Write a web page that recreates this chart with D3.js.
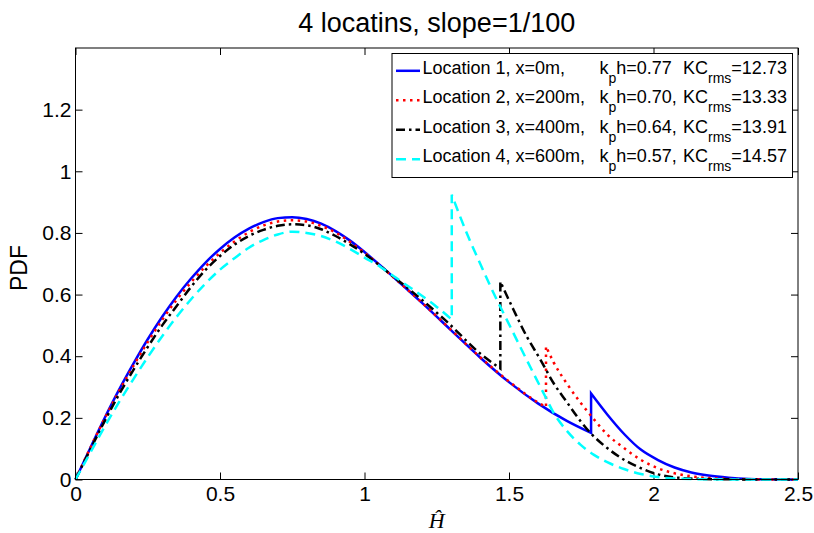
<!DOCTYPE html>
<html>
<head>
<meta charset="utf-8">
<script src="https://cdn.jsdelivr.net/npm/d3@7"></script>
<style>
  html, body { margin: 0; padding: 0; background: #fff; }
  svg { display: block; }
  text { font-family: "Liberation Sans", Arial, Helvetica, sans-serif; }
</style>
</head>
<body>
<svg id="chart" width="814" height="533"></svg>
<script>
// ---------- data ----------
const title = "4 locatins, slope=1/100";
const xTicks = [0, 0.5, 1, 1.5, 2, 2.5];
const xTickLabels = ["0", "0.5", "1", "1.5", "2", "2.5"];
const yTicks = [0, 0.2, 0.4, 0.6, 0.8, 1, 1.2];
const yTickLabels = ["0", "0.2", "0.4", "0.6", "0.8", "1", "1.2"];

// Location 1 (blue, solid)
const h1 = [0,0.05,0.1,0.15,0.2,0.25,0.3,0.35,0.4,0.45,0.5,0.55,0.6,0.65,0.7,0.75,0.8,0.85,0.9,0.95,1.0,1.1,1.2,1.3,1.4,1.5,1.6,1.7,1.784,
            1.784,1.84,1.9,1.956,2.014,2.073,2.131,2.19,2.26,2.33,2.4,2.5];
const p1 = [0,0.10,0.198,0.29,0.375,0.455,0.528,0.594,0.652,0.704,0.748,0.785,0.814,0.835,0.848,0.851,0.845,0.83,0.806,0.775,0.738,0.657,0.572,0.484,0.396,0.316,0.247,0.19,0.151,
            0.279,0.211,0.146,0.097,0.064,0.039,0.023,0.013,0.006,0.002,0.0005,0];
// Location 2 (red, dotted)
const h2 = [0,0.05,0.1,0.15,0.2,0.25,0.3,0.35,0.4,0.45,0.5,0.55,0.6,0.65,0.7,0.75,0.8,0.85,0.9,0.95,1.0,1.1,1.2,1.3,1.4,1.5,1.6,1.628,
            1.628,1.654,1.701,1.747,1.794,1.84,1.898,1.956,2.014,2.073,2.142,2.235,2.35,2.5];
const p2 = [0,0.10,0.196,0.285,0.368,0.446,0.518,0.583,0.64,0.691,0.735,0.772,0.802,0.824,0.837,0.841,0.837,0.823,0.801,0.771,0.736,0.656,0.573,0.485,0.397,0.318,0.25,0.235,
            0.432,0.381,0.31,0.25,0.195,0.146,0.102,0.064,0.037,0.02,0.009,0.003,0.0005,0];
// Location 3 (black, dash-dot)
const h3 = [0,0.05,0.1,0.15,0.2,0.25,0.3,0.35,0.4,0.45,0.5,0.55,0.6,0.65,0.7,0.75,0.8,0.85,0.9,0.95,1.0,1.1,1.2,1.285,1.4,1.47,
            1.47,1.516,1.562,1.608,1.654,1.701,1.747,1.782,1.84,1.898,1.956,2.014,2.073,2.131,2.25,2.5];
const p3 = [0,0.095,0.188,0.275,0.355,0.43,0.50,0.563,0.625,0.68,0.725,0.762,0.79,0.81,0.823,0.828,0.825,0.812,0.79,0.763,0.732,0.658,0.582,0.512,0.409,0.36,
            0.642,0.55,0.463,0.39,0.313,0.25,0.19,0.151,0.102,0.064,0.037,0.017,0.007,0.003,0.0005,0];
// Location 4 (cyan, dashed)
const h4 = [0,0.05,0.1,0.15,0.2,0.25,0.3,0.35,0.4,0.45,0.5,0.55,0.6,0.65,0.7,0.75,0.8,0.85,0.9,0.95,1.0,1.055,1.1,1.17,1.25,1.302,
            1.302,1.354,1.4,1.447,1.493,1.539,1.585,1.625,1.654,1.701,1.747,1.794,1.84,1.898,1.956,2.014,2.073,2.2,2.5];
const p4 = [0,0.085,0.17,0.25,0.325,0.397,0.465,0.528,0.585,0.636,0.681,0.718,0.752,0.777,0.795,0.804,0.80,0.79,0.772,0.748,0.72,0.69,0.66,0.615,0.56,0.519,
            0.924,0.799,0.701,0.604,0.517,0.43,0.344,0.27,0.217,0.157,0.113,0.08,0.056,0.034,0.018,0.008,0.003,0.0005,0];

const locLabels = ["Location 1, x=0m,", "Location 2, x=200m,", "Location 3, x=400m,", "Location 4, x=600m,"];
const kphLabels = ["h=0.77", "h=0.70,", "h=0.64,", "h=0.57,"];
const kcLabels  = ["=12.73", "=13.33", "=13.91", "=14.57"];

// ---------- styles ----------
const series = [
  { h: h1, p: p1, color: "#0000ff", dash: null },
  { h: h2, p: p2, color: "#ff0000", dash: "2.5,4.5" },
  { h: h3, p: p3, color: "#000000", dash: "9,4,2.5,4" },
  { h: h4, p: p4, color: "#00ffff", dash: "10,6" }
];

const svg = d3.select("#chart");
const L = 75.5, R = 798, T = 48, B = 479.5;

const x = d3.scaleLinear().domain([0, 2.5]).range([L, R]);
const y = d3.scaleLinear().domain([0, 1.4]).range([B, T]);

// axes (inward ticks, MATLAB style, box on)
const tk = 7;
const gx = svg.append("g").attr("transform", `translate(0,${B})`)
  .call(d3.axisBottom(x).tickValues(xTicks).tickFormat((d, i) => xTickLabels[i])
        .tickSizeInner(-tk).tickSizeOuter(0).tickPadding(7));
const gy = svg.append("g").attr("transform", `translate(${L},0)`)
  .call(d3.axisLeft(y).tickValues(yTicks).tickFormat((d, i) => yTickLabels[i])
        .tickSizeInner(-tk).tickSizeOuter(0).tickPadding(4));
const gt = svg.append("g").attr("transform", `translate(0,${T})`)
  .call(d3.axisTop(x).tickValues(xTicks).tickFormat("").tickSizeInner(-tk).tickSizeOuter(0));
const gr = svg.append("g").attr("transform", `translate(${R},0)`)
  .call(d3.axisRight(y).tickValues(yTicks).tickFormat("").tickSizeInner(-tk).tickSizeOuter(0));

[gx, gy, gt, gr].forEach(g => {
  g.select(".domain").remove();
  g.selectAll("line").attr("stroke", "#000").attr("stroke-width", 1);
  g.selectAll("text").attr("fill", "#000")
    .style("font-family", '"Liberation Sans", Arial, sans-serif')
    .style("font-size", "21px");
});

// curves
const line = d3.line().x(d => x(d[0])).y(d => y(d[1])).curve(d3.curveMonotoneX);
function buildPath(hs, ps) {
  const segs = [];
  let cur = [];
  hs.forEach((h, i) => {
    if (i > 0 && h === hs[i - 1]) { segs.push(cur); cur = []; }
    cur.push([h, ps[i]]);
  });
  segs.push(cur);
  let d = "";
  segs.forEach((s, i) => {
    let part = line(s);
    if (i > 0) part = "L" + part.slice(1);
    d += part;
  });
  return d;
}

const plot = svg.append("g");
series.forEach(s => {
  plot.append("path")
    .attr("d", buildPath(s.h, s.p))
    .attr("fill", "none")
    .attr("stroke", s.color)
    .attr("stroke-width", 2.5)
    .attr("stroke-linejoin", "miter")
    .attr("stroke-dasharray", s.dash);
});

// box
svg.append("rect")
  .attr("x", L).attr("y", T).attr("width", R - L).attr("height", B - T)
  .attr("fill", "none").attr("stroke", "#000").attr("stroke-width", 1);

// title
svg.append("text")
  .attr("x", (L + R) / 2).attr("y", 32)
  .attr("text-anchor", "middle")
  .style("font-size", "27px")
  .text(title);

// y label
svg.append("text")
  .attr("transform", "translate(27,268) rotate(-90)")
  .attr("text-anchor", "middle")
  .style("font-size", "23px")
  .text("PDF");

// x label
svg.append("text")
  .attr("x", (L + R) / 2).attr("y", 528)
  .attr("text-anchor", "middle")
  .style("font-family", '"Liberation Serif", "Times New Roman", serif')
  .style("font-style", "italic")
  .style("font-size", "22px")
  .text("Ĥ");

// legend
const lg = svg.append("g");
lg.append("rect")
  .attr("x", 392).attr("y", 53.5).attr("width", 400.5).attr("height", 124)
  .attr("fill", "#fff").attr("stroke", "#000").attr("stroke-width", 1);

series.forEach((s, i) => {
  const ly = 70.8 + 29.5 * i;
  lg.append("line")
    .attr("x1", 396).attr("x2", 420).attr("y1", ly).attr("y2", ly)
    .attr("stroke", s.color).attr("stroke-width", 2.5)
    .attr("stroke-dasharray", s.dash);
  const t = lg.append("text").attr("x", 422.5).attr("y", ly + 2.8).style("font-size", "18px");
  t.append("tspan").text(locLabels[i]);
  t.append("tspan").attr("x", 599.4).text("k");
  t.append("tspan").attr("dy", 9).style("font-size", "14px").text("p");
  t.append("tspan").attr("dy", -9).text(kphLabels[i]);
  t.append("tspan").attr("x", 683).text("KC");
  t.append("tspan").attr("dy", 9).style("font-size", "14px").text("rms");
  t.append("tspan").attr("dy", -9).text(kcLabels[i]);
});
</script>
</body>
</html>
